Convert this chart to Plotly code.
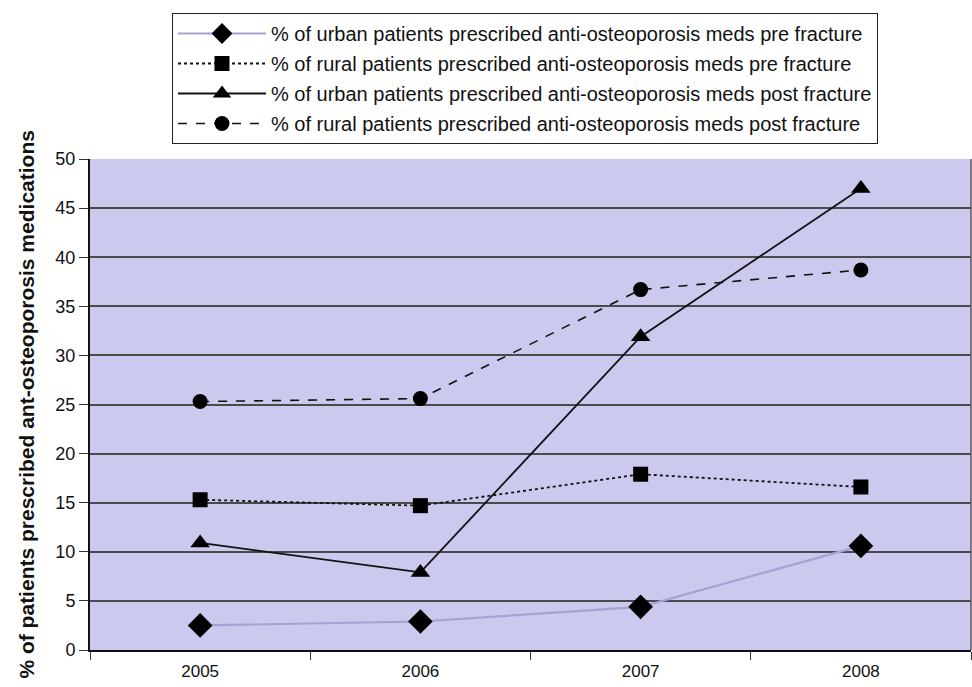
import plotly.graph_objects as go

years = ["2005", "2006", "2007", "2008"]
urban_pre = [2.5, 2.9, 4.4, 10.6]
rural_pre = [15.3, 14.7, 17.9, 16.6]
urban_post = [10.9, 7.9, 31.9, 47.0]
rural_post = [25.3, 25.6, 36.7, 38.7]

names = [
    "% of urban patients prescribed anti-osteoporosis meds pre fracture",
    "% of rural patients prescribed anti-osteoporosis meds pre fracture",
    "% of urban patients prescribed anti-osteoporosis meds post fracture",
    "% of rural patients prescribed anti-osteoporosis meds post fracture",
]
y_ticks = [0, 5, 10, 15, 20, 25, 30, 35, 40, 45, 50]
y_title = "% of patients prescribed ant-osteoporosis medications"

fig = go.Figure()
specs = [
    (urban_pre, dict(color="#a7a2d2", width=2.2, dash="solid"), dict(symbol="diamond", size=19)),
    (rural_pre, dict(color="#111111", width=1.8, dash="dot"), dict(symbol="square", size=15)),
    (urban_post, dict(color="#111111", width=1.8, dash="solid"), dict(symbol="triangle-up", size=17)),
    (rural_post, dict(color="#111111", width=1.6, dash="dash"), dict(symbol="circle", size=15)),
]
for i, (vals, line, marker) in enumerate(specs):
    fig.add_trace(go.Scatter(
        x=years, y=vals, name=names[i], mode="lines+markers",
        line=line, marker=dict(color="black", **marker),
        legendgroup=f"g{i}",
    ))

fig.update_layout(
    width=972, height=687,
    margin=dict(l=90, r=1, t=159, b=37, autoexpand=False),
    paper_bgcolor="white",
    plot_bgcolor="#cbc9ee",
    font=dict(family="Liberation Sans, Arial, sans-serif", size=17, color="#111111"),
    showlegend=True,
    legend=dict(
        xref="container", yref="container",
        x=172 / 972, y=1 - 13 / 687, xanchor="left", yanchor="top",
        bordercolor="#222222", borderwidth=1, bgcolor="white",
        font=dict(size=20), tracegroupgap=1, itemwidth=88,
    ),
    xaxis=dict(
        type="category", range=[-0.5, 3.5], tickson="boundaries", ticks="outside",
        ticklen=8, tickcolor="#333333", showgrid=False, showline=True,
        linecolor="#111111", linewidth=2, tickfont=dict(size=17), automargin=False,
        ticklabelstandoff=5,
    ),
    yaxis=dict(
        range=[0, 50], tickvals=y_ticks, ticks="outside", ticklen=9,
        tickcolor="#333333", showgrid=True, gridcolor="#4a4a4a", gridwidth=1.5,
        showline=True, linecolor="#111111", linewidth=2, tickfont=dict(size=18),
        zeroline=False, automargin=False,
    ),
    shapes=[dict(type="line", xref="paper", yref="paper", x0=1, x1=1, y0=0, y1=1,
                 line=dict(color="#555555", width=1.5))],
    annotations=[dict(
        text="<b>" + y_title + "</b>", xref="paper", yref="paper",
        x=-0.0726, y=0.5, xanchor="center", yanchor="middle",
        textangle=-90, showarrow=False, font=dict(size=21, color="#111111"),
    )],
)

fig.write_html("out.html", config={"displayModeBar": False},
               post_script="document.body.style.margin='0';")
